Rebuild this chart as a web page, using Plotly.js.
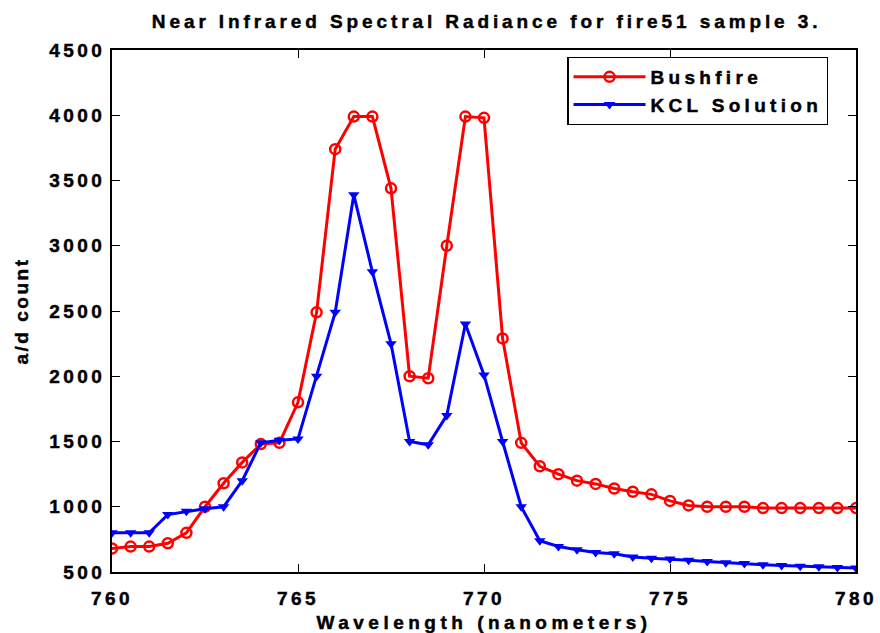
<!DOCTYPE html>
<html>
<head>
<meta charset="utf-8">
<script src="https://cdn.plot.ly/plotly-3.0.1.min.js"></script>
<style>
body{margin:0;padding:0;background:#fff;}
#chart{width:880px;height:633px;}
.gtitle{letter-spacing:3.9px;}
.xtitle{letter-spacing:4.5px;}
.ytitle{letter-spacing:2.5px;}
.legendtext{letter-spacing:4.3px;}
.xtick text,.ytick text{letter-spacing:3.5px;}
.gtitle,.xtitle,.ytitle,.legendtext,.xtick text,.ytick text{stroke:#000;stroke-width:0.45px;}
</style>
</head>
<body>
<div id="chart"></div>
<script>
const wavelength = [760,760.5,761,761.5,762,762.5,763,763.5,764,764.5,765,765.5,766,766.5,767,767.5,768,768.5,769,769.5,770,770.5,771,771.5,772,772.5,773,773.5,774,774.5,775,775.5,776,776.5,777,777.5,778,778.5,779,779.5,780];
const bushfire = [680,695,695,720,800,1000,1180,1340,1480,1490,1800,2490,3740,3990,3990,3440,2000,1985,3000,3990,3980,2290,1490,1310,1250,1200,1175,1140,1115,1095,1045,1010,1000,1000,1000,990,990,990,990,990,990];
const kcl = [800,800,800,940,965,985,1000,1200,1490,1510,1520,2000,2490,3390,2800,2250,1500,1475,1700,2400,2010,1500,1000,740,695,670,650,640,615,605,600,590,580,570,565,555,550,545,540,535,530];
const seriesNames = ["Bushfire","KCL Solution"];
const chartTitle = "Near Infrared Spectral Radiance for fire51 sample 3.";
const xTitle = "Wavelength (nanometers)";
const yTitle = "a/d count";
const xTicks = [760,765,770,775,780];
const yTicks = [500,1000,1500,2000,2500,3000,3500,4000,4500];

const fontFam = "Liberation Sans, Arial, sans-serif";
const traces = [
  {x: wavelength, y: bushfire, name: seriesNames[0], type: "scatter", mode: "lines+markers",
   line: {color: "#ff0000", width: 3},
   marker: {symbol: "circle-open", size: 10, color: "#ff0000", line: {width: 2.5, color: "#ff0000"}}},
  {x: wavelength, y: kcl, name: seriesNames[1], type: "scatter", mode: "lines+markers",
   line: {color: "#0000ff", width: 3},
   marker: {symbol: "triangle-down", size: 10, color: "#0000ff"}}
];
const layout = {
  width: 880, height: 633,
  margin: {l: 112, r: 24, t: 50, b: 61},
  paper_bgcolor: "#fff", plot_bgcolor: "#fff",
  font: {family: fontFam, color: "#000", size: 19, weight: "bold"},
  title: {text: chartTitle, x: 0.553, xanchor: "center", y: 0.967, yanchor: "middle",
          font: {family: fontFam, size: 19, weight: "bold", color: "#000"}},
  showlegend: true,
  legend: {x: 0.612, y: 0.987, xanchor: "left", yanchor: "top", bgcolor: "#fff",
           bordercolor: "#000", borderwidth: 1.2, itemwidth: 72, entrywidth: 272,
           font: {family: fontFam, size: 19, weight: "bold", color: "#000"}},
  xaxis: {range: [760, 780], tickvals: xTicks, ticktext: xTicks.map(String),
          ticks: "inside", ticklen: 8, tickwidth: 1, tickcolor: "#000",
          showline: true, linecolor: "#000", linewidth: 1.5, mirror: "ticks",
          showgrid: false, zeroline: false, ticklabelstandoff: 8,
          tickfont: {family: fontFam, size: 19, weight: "bold"},
          title: {text: xTitle, standoff: 8, font: {family: fontFam, size: 19, weight: "bold"}}},
  yaxis: {range: [500, 4500], tickvals: yTicks, ticktext: yTicks.map(String),
          ticks: "inside", ticklen: 8, tickwidth: 1, tickcolor: "#000",
          showline: true, linecolor: "#000", linewidth: 1.5, mirror: "ticks",
          showgrid: false, zeroline: false, ticklabelstandoff: 1,
          tickfont: {family: fontFam, size: 19, weight: "bold"},
          title: {text: yTitle, standoff: 16, font: {family: fontFam, size: 19, weight: "bold"}}}
};
Plotly.newPlot("chart", traces, layout, {displayModeBar: false});
</script>
</body>
</html>
